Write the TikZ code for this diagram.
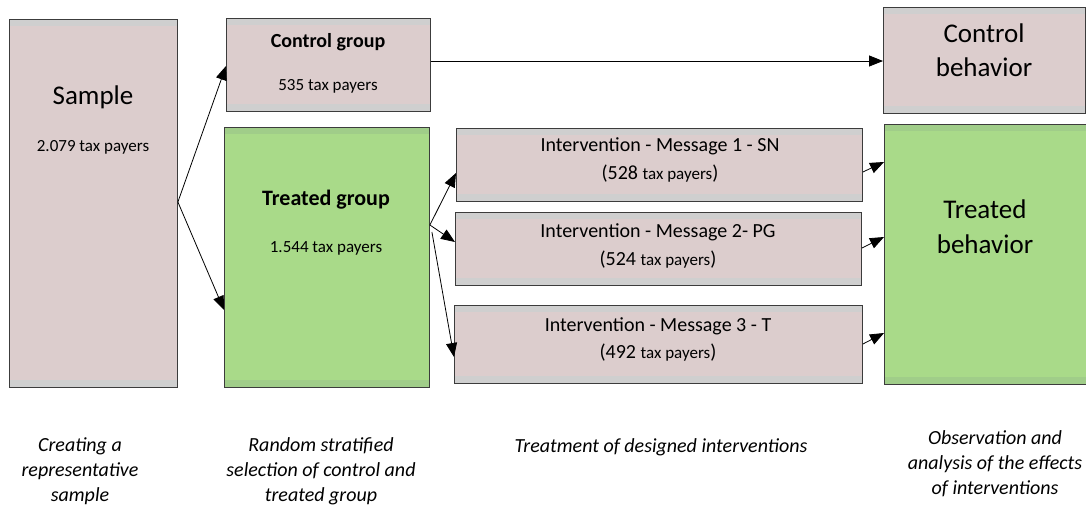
\documentclass[tikz,border=0pt]{standalone}
\usepackage{fontspec}
\setmainfont{Carlito}
\usetikzlibrary{arrows.meta}
\definecolor{pinkc}{RGB}{220,205,205}
\definecolor{grayband}{RGB}{207,207,207}
\definecolor{greenc}{RGB}{169,218,137}
\definecolor{greenband}{RGB}{160,205,137}
\definecolor{edgec}{RGB}{60,60,60}
\begin{document}
\begin{tikzpicture}[x=1pt,y=-1pt,
  basebox/.style={draw=edgec, line width=0.9pt, inner sep=0pt, anchor=north west},
  pinkbox/.style={basebox, fill=pinkc, path picture={
      \fill[grayband] (path picture bounding box.north west) rectangle ([yshift=-7pt]path picture bounding box.north east);
      \fill[grayband] (path picture bounding box.south west) rectangle ([yshift=7pt]path picture bounding box.south east);}},
  greenbox/.style={basebox, fill=greenc, path picture={
      \fill[greenband] (path picture bounding box.north west) rectangle ([yshift=-7pt]path picture bounding box.north east);
      \fill[greenband] (path picture bounding box.south west) rectangle ([yshift=7pt]path picture bounding box.south east);}},
  bigtxt/.style={font=\fontsize{27}{34}\selectfont, inner sep=0pt, align=center},
  midtxt/.style={font=\fontsize{20}{24}\selectfont, inner sep=0pt},
  smalltxt/.style={font=\fontsize{17}{20}\selectfont, inner sep=0pt},
  captxt/.style={font=\fontsize{20}{25}\selectfont\itshape, inner sep=0pt, align=center},
  arr/.style={-{Triangle[length=14pt,width=11pt]}, line width=0.8pt, black}
]
\useasboundingbox (0,0) rectangle (1086,512);

% boxes
\node[pinkbox, minimum width=168pt, minimum height=368pt] (sample) at (9,19) {};
\node[pinkbox, minimum width=204pt, minimum height=93pt] (cg) at (226,18) {};
\node[greenbox, minimum width=205pt, minimum height=260pt] (tg) at (224,127) {};
\node[pinkbox, minimum width=406pt, minimum height=73pt] (m1) at (456,128) {};
\node[pinkbox, minimum width=406pt, minimum height=73pt] (m2) at (455,212) {};
\node[pinkbox, minimum width=408pt, minimum height=78pt] (m3) at (454,305) {};
\node[pinkbox, minimum width=202pt, minimum height=106pt] (cb) at (883,7) {};
\node[greenbox, minimum width=204pt, minimum height=260pt] (tb) at (884,124) {};

% texts
\node[bigtxt] (t-sample) at (93,97) {Sample};
\node[smalltxt] (t-sample2) at (93,147) {2.079 tax payers};
\node[midtxt, font=\fontsize{20}{24}\selectfont\bfseries] (t-cg) at (328,42) {Control group};
\node[smalltxt] (t-cg2) at (328,86) {535 tax payers};
\node[font=\fontsize{22}{26}\selectfont\bfseries, inner sep=0pt] (t-tg) at (326,200) {Treated group};
\node[smalltxt] (t-tg2) at (326,248) {1.544 tax payers};

\node[midtxt] (t-m1) at (660,146) {Intervention - Message 1 - SN};
\node[midtxt] (t-m1b) at (660,174) {(528 {\fontsize{17}{20}\selectfont tax payers})};
\node[midtxt] (t-m2) at (658,232) {Intervention - Message 2- PG};
\node[midtxt] (t-m2b) at (658,260) {(524 {\fontsize{17}{20}\selectfont tax payers})};
\node[midtxt] (t-m3) at (658,326) {Intervention - Message 3 - T};
\node[midtxt] (t-m3b) at (658,353) {(492 {\fontsize{17}{20}\selectfont tax payers})};

\node[bigtxt] (t-cb) at (984,33) {Control};
\node[bigtxt] (t-cb2) at (984,67) {behavior};
\node[bigtxt] (t-tb) at (985,209) {Treated};
\node[bigtxt] (t-tb2) at (985,244) {behavior};

% captions
\node[captxt] (c1) at (80,471) {Creating a\\representative\\sample};
\node[captxt] (c2) at (321,471) {Random stratified\\selection of control and\\treated group};
\node[captxt] (c3) at (661,447) {Treatment of designed interventions};
\node[captxt] (c4) at (995,464) {Observation and\\analysis of the effects\\of interventions};

% connectors
\coordinate (sfork) at (sample.east |- 0,202);
\draw[arr] (sfork) -- (cg.west |- 0,66);
\draw[arr] (sfork) -- (tg.west |- 0,310);
\draw[arr] (cg.east |- 0,61) -- (cb.west |- 0,61);
\coordinate (tfork) at (tg.east |- 0,225);
\coordinate (tfork2) at ([xshift=2pt]tg.east |- 0,232);
\draw[arr] (tfork) -- (m1.west |- 0,173);
\draw[arr] (tfork) -- (m2.west |- 0,242);
\draw[arr] (tfork2) -- (m3.west |- 0,357);
\draw[arr] (m1.east |- 0,172) -- (tb.west |- 0,162);
\draw[arr] (m2.east |- 0,248) -- (tb.west |- 0,237);
\draw[arr] (m3.east |- 0,344) -- (tb.west |- 0,333);
\end{tikzpicture}
\end{document}
